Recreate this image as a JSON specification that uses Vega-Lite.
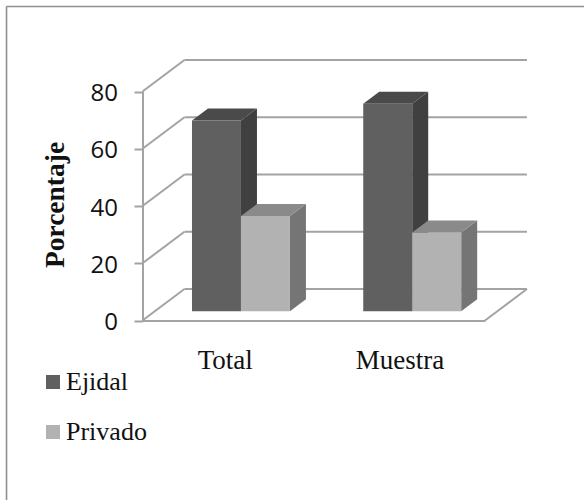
{
  "$schema": "https://vega.github.io/schema/vega-lite/v6.json",
  "width": 584,
  "height": 500,
  "padding": 0,
  "autosize": "none",
  "background": "white",
  "view": {"stroke": null},
  "config": {"axis": {"grid": false}},
  "datasets": {
    "tenencia": [
      {"grupo": "Total", "tenencia": "Ejidal", "porcentaje": 66.7},
      {"grupo": "Total", "tenencia": "Privado", "porcentaje": 33.3},
      {"grupo": "Muestra", "tenencia": "Ejidal", "porcentaje": 72.5},
      {"grupo": "Muestra", "tenencia": "Privado", "porcentaje": 27.5}
    ],
    "niveles": [{"nivel": 0}, {"nivel": 20}, {"nivel": 40}, {"nivel": 60}, {"nivel": 80}],
    "marco": [{"lado": "izquierdo"}]
  },
  "layer": [
    {
      "description": "Left and top edges of the chart frame",
      "data": {"name": "marco"},
      "mark": {"type": "rule", "color": "#8f8f8f", "strokeWidth": 1.6},
      "encoding": {
        "x": {
          "datum": -0.794,
          "type": "quantitative",
          "scale": {"domain": [0, 2], "range": [142.5, 485], "nice": false, "zero": false},
          "axis": {
            "orient": "bottom",
            "offset": -179.5,
            "values": [0.48, 1.5],
            "labelExpr": "datum.value < 1 ? 'Total' : 'Muestra'",
            "title": null,
            "ticks": false,
            "grid": false,
            "domainColor": "#a3a3a3",
            "domainWidth": 2,
            "labelFont": "Liberation Serif",
            "labelFontSize": 27,
            "labelColor": "#111111",
            "labelPadding": 27,
            "labelAngle": 0,
            "labelAlign": "center",
            "labelOverlap": false,
            "labelFlush": false
          }
        },
        "y": {
          "datum": -62.7,
          "type": "quantitative",
          "scale": {"domain": [0, 80], "range": [320.5, 91.5], "nice": false, "zero": false},
          "axis": {
            "orient": "left",
            "offset": -142.5,
            "values": [0, 20, 40, 60, 80],
            "title": "Porcentaje",
            "titleFont": "Liberation Serif",
            "titleFontWeight": "bold",
            "titleFontSize": 27.5,
            "titleColor": "#111111",
            "titleAngle": -90,
            "titleAlign": "center",
            "titleBaseline": "alphabetic",
            "titleX": -79.5,
            "titleY": 204.5,
            "grid": false,
            "domainColor": "#a3a3a3",
            "domainWidth": 2,
            "tickColor": "#a3a3a3",
            "tickWidth": 2,
            "tickSize": 8.5,
            "labelFont": "Open Sans",
            "labelFontSize": 24,
            "labelColor": "#111111",
            "labelPadding": 16.5,
            "labelBaseline": "middle",
            "labelOffset": 2
          }
        },
        "y2": {"datum": 109.7}
      }
    },
    {
      "data": {"name": "marco"},
      "mark": {"type": "rule", "color": "#8f8f8f", "strokeWidth": 1.6},
      "encoding": {
        "x": {"datum": -0.794, "type": "quantitative"},
        "x2": {"datum": 2.6},
        "y": {"datum": 109.7, "type": "quantitative"}
      }
    },
    {
      "description": "Side wall: slanted gridlines running back from the axis",
      "data": {"name": "niveles"},
      "transform": [{"calculate": "datum.nivel + 11", "as": "fondo"}],
      "mark": {"type": "rule", "color": "#a3a3a3", "strokeWidth": 2},
      "encoding": {
        "x": {"datum": 0, "type": "quantitative"},
        "x2": {"datum": 0.245},
        "y": {"field": "nivel", "type": "quantitative"},
        "y2": {"field": "fondo"}
      }
    },
    {
      "description": "Back wall: horizontal gridlines",
      "data": {"name": "niveles"},
      "transform": [{"calculate": "datum.nivel + 11", "as": "fondo"}],
      "mark": {"type": "rule", "color": "#a3a3a3", "strokeWidth": 2},
      "encoding": {
        "x": {"datum": 0.245, "type": "quantitative"},
        "x2": {"datum": 2.245},
        "y": {"field": "fondo", "type": "quantitative"}
      }
    },
    {
      "description": "Right edge of the floor",
      "data": {"name": "marco"},
      "mark": {"type": "rule", "color": "#a3a3a3", "strokeWidth": 2},
      "encoding": {
        "x": {"datum": 2, "type": "quantitative"},
        "x2": {"datum": 2.245},
        "y": {"datum": 0, "type": "quantitative"},
        "y2": {"datum": 11}
      }
    },
    {
      "description": "Right side faces of the bars",
      "data": {"name": "tenencia"},
      "transform": [
        {"calculate": "(datum.grupo === 'Total' ? 0 : 1) + 0.289 + (datum.tenencia === 'Ejidal' ? 0.286 : 0.572)", "as": "derecha"},
        {"calculate": "[0, 1]", "as": "t"},
        {"flatten": ["t"]},
        {"calculate": "datum.derecha + datum.t * 0.0934", "as": "xCara"},
        {"calculate": "3.2 + datum.t * 4.2", "as": "yBase"},
        {"calculate": "3.2 + datum.porcentaje + datum.t * 4.2", "as": "yTecho"},
        {"calculate": "datum.grupo + datum.tenencia", "as": "barra"}
      ],
      "mark": {"type": "area", "orient": "vertical", "interpolate": "linear"},
      "encoding": {
        "x": {"field": "xCara", "type": "quantitative"},
        "y": {"field": "yTecho", "type": "quantitative", "stack": null},
        "y2": {"field": "yBase"},
        "detail": {"field": "barra", "type": "nominal"},
        "color": {
          "field": "tenencia",
          "type": "nominal",
          "scale": {"domain": ["Ejidal", "Privado"], "range": ["#404040", "#757575"]},
          "legend": null
        }
      }
    },
    {
      "description": "Top faces of the bars",
      "data": {"name": "tenencia"},
      "transform": [
        {"calculate": "(datum.grupo === 'Total' ? 0 : 1) + 0.289 + (datum.tenencia === 'Ejidal' ? 0 : 0.286)", "as": "izquierda"},
        {"calculate": "3.2 + datum.porcentaje", "as": "techo"},
        {"calculate": "[0, 1, 2, 3]", "as": "t"},
        {"flatten": ["t"]},
        {"calculate": "datum.izquierda + [0, 0.0934, 0.286, 0.3794][datum.t]", "as": "xCara"},
        {"calculate": "datum.techo + (datum.t === 3 ? 4.2 : 0)", "as": "yInferior"},
        {"calculate": "datum.techo + (datum.t === 0 ? 0 : 4.2)", "as": "ySuperior"},
        {"calculate": "datum.grupo + datum.tenencia", "as": "barra"}
      ],
      "mark": {"type": "area", "orient": "vertical", "interpolate": "linear"},
      "encoding": {
        "x": {"field": "xCara", "type": "quantitative"},
        "y": {"field": "ySuperior", "type": "quantitative", "stack": null},
        "y2": {"field": "yInferior"},
        "detail": {"field": "barra", "type": "nominal"},
        "color": {
          "field": "tenencia",
          "type": "nominal",
          "scale": {"domain": ["Ejidal", "Privado"], "range": ["#4a4a4a", "#8a8a8a"]},
          "legend": null
        }
      }
    },
    {
      "description": "Front faces of the bars, which also carry the legend",
      "data": {"name": "tenencia"},
      "transform": [
        {"calculate": "(datum.grupo === 'Total' ? 0 : 1) + 0.289 + (datum.tenencia === 'Ejidal' ? 0 : 0.286)", "as": "izquierda"},
        {"calculate": "datum.izquierda + 0.286", "as": "derecha"},
        {"calculate": "3.2 + datum.porcentaje", "as": "techo"},
        {"calculate": "3.2", "as": "base"}
      ],
      "mark": {"type": "rect"},
      "encoding": {
        "x": {"field": "izquierda", "type": "quantitative"},
        "x2": {"field": "derecha"},
        "y": {"field": "techo", "type": "quantitative"},
        "y2": {"field": "base"},
        "color": {
          "field": "tenencia",
          "type": "nominal",
          "scale": {"domain": ["Ejidal", "Privado"], "range": ["#606060", "#b2b2b2"]},
          "legend": {
            "orient": "none",
            "legendX": 40,
            "legendY": 369,
            "title": null,
            "symbolType": "square",
            "symbolSize": 196,
            "symbolStrokeWidth": 0,
            "symbolOpacity": 1,
            "labelFont": "Liberation Serif",
            "labelFontSize": 26,
            "labelColor": "#111111",
            "labelOffset": 0,
            "rowPadding": 24
          }
        }
      }
    }
  ],
  "resolve": {"scale": {"color": "independent"}}
}
